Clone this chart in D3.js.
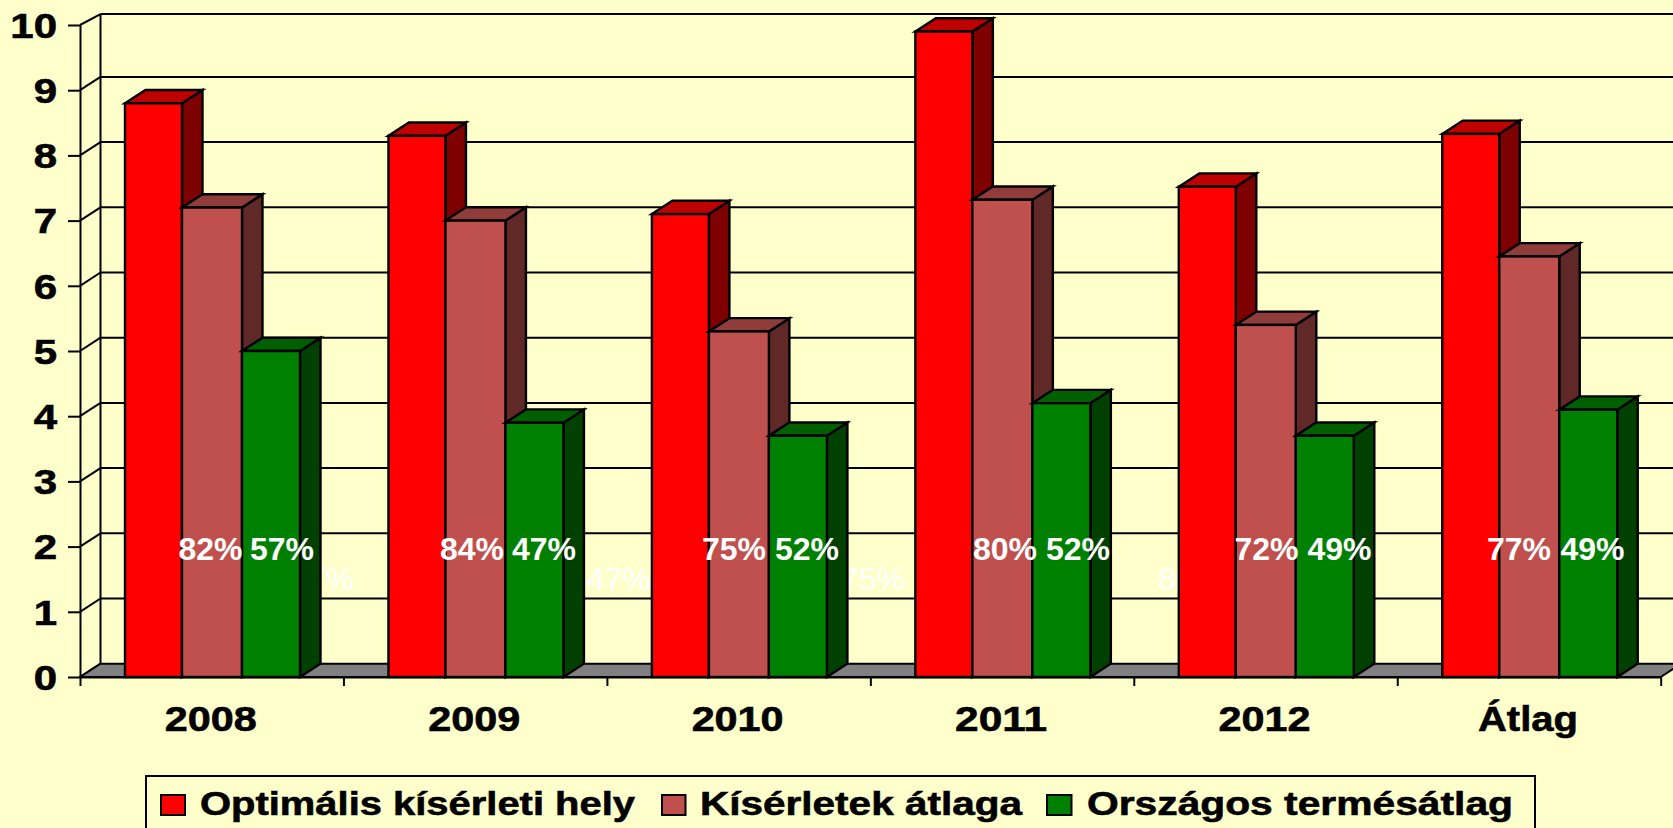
<!DOCTYPE html>
<html>
<head>
<meta charset="utf-8">
<title>Termésátlagok</title>
<script src="https://cdn.jsdelivr.net/npm/d3@7"></script>
<style>
    html, body { margin: 0; padding: 0; background: #ffffcc; overflow: hidden; }
    svg { display: block; }
    text { font-family: "Liberation Sans", Arial, sans-serif; font-weight: bold; fill: #000; }
    .heavy text, text.heavy { stroke: #000; stroke-width: 0.6px; }
</style>
</head>
<body>
<div id="chart"></div>
<script>
var categories = ["2008", "2009", "2010", "2011", "2012", "Átlag"];
var seriesNames = ["Optimális kísérleti hely", "Kísérletek átlaga", "Országos termésátlag"];
var optimalValues = [8.8, 8.3, 7.1, 9.9, 7.52, 8.33];
var averageValues = [7.2, 7.0, 5.3, 7.32, 5.4, 6.45];
var nationalValues = [5.0, 3.9, 3.7, 4.2, 3.7, 4.1];
var averagePercents = ["82%", "84%", "75%", "80%", "72%", "77%"];
var nationalPercents = ["57%", "47%", "52%", "52%", "49%", "49%"];
var strayLabels = ["57%", "84%", "47%", "75%", "80%"];
var yTicks = [0, 1, 2, 3, 4, 5, 6, 7, 8, 9, 10];

var width = 1673,
    height = 828;

var plot = { left: 80, right: 1660.7, top: 25, bottom: 677 };
var depth = { x: 20.5, y: 13.3 };
var wallTopDrop = 2.4; // the top wall line sits a bit lower than the scale would put it

var faceColors = ["#ff0000", "#c0504d", "#008000"],
    topColors = ["#bf0000", "#903c3a", "#006000"],
    sideColors = ["#7f0000", "#602826", "#004000"];

// bar edges inside a group, percent label placement, hand placed in the original
var barOffsets = [45, 102, 162],
    barWidths = [57, 60, 58];
var averageLabelX = [210.5, 472, 734, 1005, 1266.5, 1519],
    nationalLabelX = [282, 544, 807, 1078, 1339.5, 1592.5],
    strayLabelEnd = [354, 588, 651, 905, 1222];

var y = d3.scaleLinear().domain([0, 10]).range([plot.bottom, plot.top]);
var x = d3.scaleBand().domain(categories).range([plot.left, plot.right]);
var xEdges = d3.scaleLinear().domain([0, categories.length]).range([plot.left, plot.right]);

var seriesValues = [optimalValues, averageValues, nationalValues];

var svg = d3.select("#chart")
    .append("svg")
    .attr("width", width)
    .attr("height", height);

createWall();
createAxes();
createBars();
createPercentLabels();
createLegend();

function poly(points) {
    return "M" + points.map(function (p) { return p.join(","); }).join("L") + "Z";
}

function backY(v) {
    var py = y(v) - depth.y;
    return v === 10 ? py + wallTopDrop : py;
}

function createWall() {
    var wall = svg.append("g")
        .attr("fill", "none")
        .attr("stroke", "#000")
        .attr("stroke-width", 2);

    wall.selectAll(".grid")
        .data(yTicks.slice(1))
        .enter()
        .append("line")
        .attr("class", "grid")
        .attr("x1", plot.left + depth.x)
        .attr("x2", width)
        .attr("y1", backY)
        .attr("y2", backY);

    wall.selectAll(".spoke")
        .data(yTicks)
        .enter()
        .append("line")
        .attr("class", "spoke")
        .attr("x1", plot.left)
        .attr("x2", plot.left + depth.x)
        .attr("y1", y)
        .attr("y2", backY);

    wall.append("line")
        .attr("x1", plot.left + depth.x)
        .attr("x2", plot.left + depth.x)
        .attr("y1", backY(10))
        .attr("y2", backY(0));

    // leftovers of labels that sit behind the bars in the original
    svg.append("g").selectAll("text")
        .data(strayLabels)
        .enter()
        .append("text")
        .attr("x", function (d, i) { return strayLabelEnd[i]; })
        .attr("y", 590)
        .attr("text-anchor", "end")
        .style("font-weight", "normal")
        .style("font-size", "32px")
        .style("fill", "#fff")
        .text(function (d) { return d; });

    svg.append("path")
        .attr("d", poly([
            [plot.left, y(0)],
            [plot.right, y(0)],
            [plot.right + depth.x, y(0) - depth.y],
            [plot.left + depth.x, y(0) - depth.y]
        ]))
        .attr("fill", "#808080")
        .attr("stroke", "#000")
        .attr("stroke-width", 2);
}

function createAxes() {
    var yAxis = svg.append("g")
        .attr("class", "heavy")
        .attr("transform", "translate(" + plot.left + ",0)")
        .call(d3.axisLeft(y).tickValues(yTicks).tickSize(12).tickSizeOuter(0).tickPadding(0));
    yAxis.selectAll("line").attr("stroke-width", 2);
    yAxis.select(".domain").attr("stroke-width", 2);
    yAxis.selectAll("text")
        .style("font-size", "35px")
        .attr("transform", "scale(1.2,1)")
        .attr("x", -23 / 1.2)
        .attr("dy", "0.35em");

    var edgeAxis = svg.append("g")
        .attr("transform", "translate(0," + plot.bottom + ")")
        .call(d3.axisBottom(xEdges).ticks(categories.length).tickSize(9).tickSizeOuter(0).tickFormat(""));
    edgeAxis.selectAll("line").attr("stroke-width", 2);
    edgeAxis.select(".domain").attr("stroke-width", 2);

    var xAxis = svg.append("g")
        .attr("class", "heavy")
        .attr("transform", "translate(0," + plot.bottom + ")")
        .call(d3.axisBottom(x).tickSize(0).tickPadding(0));
    xAxis.select(".domain").remove();
    xAxis.selectAll("text")
        .style("font-size", "35px")
        .attr("dy", 0)
        .attr("y", 54)
        .attr("x", -1)
        .attr("textLength", function (d) { return d === "Átlag" ? 100 : 92; })
        .attr("lengthAdjust", "spacingAndGlyphs");
}

function createBars() {
    var groups = svg.selectAll(".group")
        .data(categories)
        .enter()
        .append("g")
        .attr("class", "group")
        .attr("transform", function (d) { return "translate(" + x(d) + ",0)"; });

    seriesValues.forEach(function (values, s) {
        var left = barOffsets[s],
            right = barOffsets[s] + barWidths[s];

        var bars = groups.append("g")
            .attr("stroke", "#000")
            .attr("stroke-width", 2.4)
            .attr("stroke-linejoin", "miter");

        bars.append("path")
            .attr("fill", sideColors[s])
            .attr("d", function (d, i) {
                var top = y(values[i]);
                return poly([
                    [right, top],
                    [right + depth.x, top - depth.y],
                    [right + depth.x, y(0) - depth.y],
                    [right, y(0)]
                ]);
            });

        bars.append("path")
            .attr("fill", topColors[s])
            .attr("d", function (d, i) {
                var top = y(values[i]);
                return poly([
                    [left, top],
                    [left + depth.x, top - depth.y],
                    [right + depth.x, top - depth.y],
                    [right, top]
                ]);
            });

        bars.append("rect")
            .attr("fill", faceColors[s])
            .attr("x", left)
            .attr("width", barWidths[s])
            .attr("y", function (d, i) { return y(values[i]); })
            .attr("height", function (d, i) { return y(0) - y(values[i]); });
    });
}

function createPercentLabels() {
    var labels = svg.append("g")
        .style("font-size", "32px")
        .attr("text-anchor", "middle");

    [[averagePercents, averageLabelX], [nationalPercents, nationalLabelX]].forEach(function (row) {
        labels.selectAll(null)
            .data(row[0])
            .enter()
            .append("text")
            .attr("x", function (d, i) { return row[1][i]; })
            .attr("y", 559.5)
            .style("fill", "#fff")
            .text(function (d) { return d; });
    });
}

function createLegend() {
    var swatchX = [161, 662, 1047],
        swatchW = [24, 23.5, 24.5],
        textX = [200, 700, 1087],
        textW = [435, 322, 426];

    var legend = svg.append("g").attr("class", "heavy");

    legend.append("rect")
        .attr("x", 146)
        .attr("y", 776)
        .attr("width", 1535 - 146)
        .attr("height", 70)
        .attr("fill", "#ffffcc")
        .attr("stroke", "#000")
        .attr("stroke-width", 2);

    var items = legend.selectAll(".item")
        .data(seriesNames)
        .enter()
        .append("g")
        .attr("class", "item");

    items.append("rect")
        .attr("x", function (d, i) { return swatchX[i]; })
        .attr("y", 795)
        .attr("width", function (d, i) { return swatchW[i]; })
        .attr("height", 20)
        .attr("fill", function (d, i) { return faceColors[i]; })
        .attr("stroke", "#000")
        .attr("stroke-width", 2);

    items.append("text")
        .attr("x", function (d, i) { return textX[i]; })
        .attr("y", 815)
        .attr("textLength", function (d, i) { return textW[i]; })
        .attr("lengthAdjust", "spacingAndGlyphs")
        .style("font-size", "33px")
        .text(function (d) { return d; });
}
</script>
</body>
</html>
